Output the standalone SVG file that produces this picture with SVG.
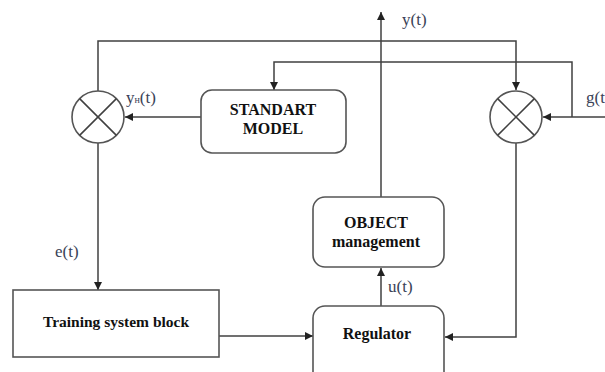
<svg xmlns="http://www.w3.org/2000/svg" width="605" height="372" viewBox="0 0 605 372">
<style>
.ln{fill:none;stroke:#404040;stroke-width:1.5}
.bx{fill:#fff;stroke:#555;stroke-width:1.6}
.bt{font-family:"Liberation Serif",serif;font-weight:bold;font-size:16px;fill:#111;text-anchor:middle}
.lb{font-family:"Liberation Serif",serif;font-size:17px;fill:#3a4257}
</style>
<defs>
<marker id="ah" viewBox="0 0 10 10" refX="10" refY="5" markerWidth="8" markerHeight="8" markerUnits="userSpaceOnUse" orient="auto">
<path d="M0,0 L10,5 L0,10 Z" fill="#222"/>
</marker>
</defs>
<g id="connectors">
<path class="ln" d="M98,91 V41 H516 V90" marker-end="url(#ah)"/>
<path class="ln" d="M572,117 V62 H274 V90" marker-end="url(#ah)"/>
<path class="ln" d="M605,117 H543" marker-end="url(#ah)"/>
<path class="ln" d="M201,117 H125" marker-end="url(#ah)"/>
<path class="ln" d="M98,143 V290" marker-end="url(#ah)"/>
<path class="ln" d="M219,336 H313" marker-end="url(#ah)"/>
<path class="ln" d="M381,306 V268" marker-end="url(#ah)"/>
<path class="ln" d="M381,197 V12" marker-end="url(#ah)"/>
<path class="ln" d="M516,143 V337 H445" marker-end="url(#ah)"/>
</g>
<g id="sum-left">
<circle cx="98" cy="117" r="26" fill="#fff" stroke="#555" stroke-width="1.6"/>
<path class="ln" d="M79.6,98.6 L116.4,135.4 M116.4,98.6 L79.6,135.4" stroke="#666"/>
</g>
<g id="sum-right">
<circle cx="516" cy="117" r="26" fill="#fff" stroke="#555" stroke-width="1.6"/>
<path class="ln" d="M497.6,98.6 L534.4,135.4 M534.4,98.6 L497.6,135.4" stroke="#666"/>
</g>
<g id="standart-model">
<rect class="bx" x="201" y="90" width="145" height="63" rx="11"/>
<text class="bt" x="273" y="115">STANDART</text>
<text class="bt" x="273" y="134">MODEL</text>
</g>
<g id="object-management">
<rect class="bx" x="313" y="197" width="131" height="70" rx="12"/>
<text class="bt" x="376" y="228">OBJECT</text>
<text class="bt" x="376" y="247">management</text>
</g>
<g id="training-system-block">
<rect x="13" y="290" width="206" height="67" fill="#fff" stroke="#555" stroke-width="1.6"/>
<text class="bt" x="116" y="327" style="font-size:15.5px">Training system block</text>
</g>
<g id="regulator">
<rect class="bx" x="313" y="306" width="131" height="80" rx="12"/>
<text class="bt" x="377" y="339">Regulator</text>
</g>
<g id="labels">
<text class="lb" x="402" y="25">y(t)</text>
<text class="lb" x="126" y="103">y<tspan font-size="10">н</tspan>(t)</text>
<text class="lb" x="586" y="103">g(t</text>
<text class="lb" x="55" y="257">e(t)</text>
<text class="lb" x="388" y="292">u(t)</text>
</g>
</svg>
